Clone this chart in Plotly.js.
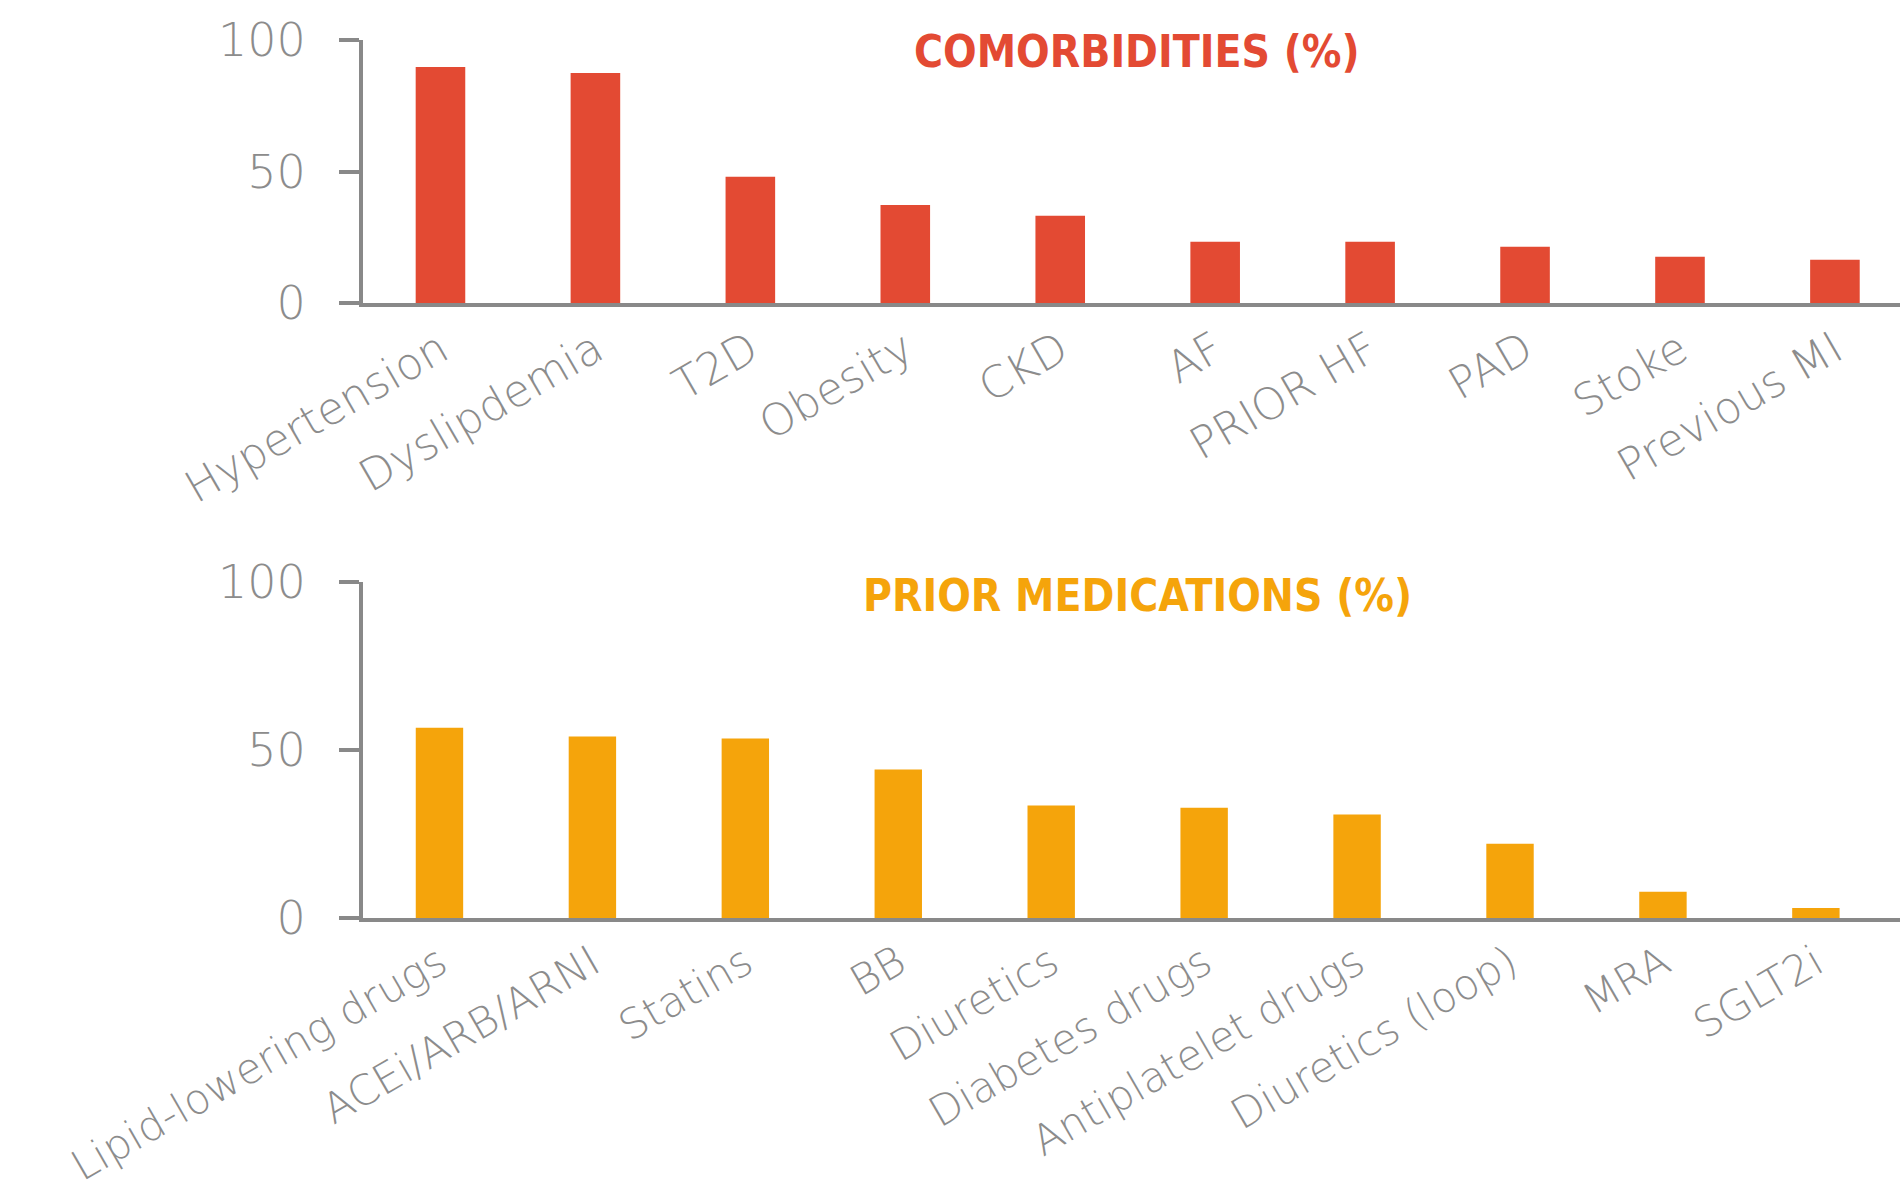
<!DOCTYPE html>
<html>
<head>
<meta charset="utf-8">
<script src="https://cdn.plot.ly/plotly-3.0.1.min.js"></script>
<style>html,body{margin:0;padding:0;background:#fff;}#chart{width:1900px;height:1195px;}</style>
</head>
<body>
<div id="chart"></div>
<script>
const comorbCategories = ["Hypertension","Dyslipdemia","T2D","Obesity","CKD","AF","PRIOR HF","PAD","Stoke","Previous MI"];
const comorbValues = [89.7, 87.5, 48.0, 37.3, 33.2, 23.3, 23.3, 21.4, 17.6, 16.4];
const medCategories = ["Lipid-lowering drugs","ACEi/ARB/ARNI","Statins","BB","Diuretics","Diabetes drugs","Antiplatelet drugs","Diuretics (loop)","MRA","SGLT2i"];
const medValues = [56.6, 54.0, 53.4, 44.2, 33.5, 32.8, 30.8, 22.1, 7.8, 3.0];
const yTickVals = [0, 50, 100];
const yTickText = ["0", "50", "100"];
const titleTop = "COMORBIDITIES (%)";
const titleBottom = "PRIOR MEDICATIONS (%)";

const RED = "#E34A33", ORANGE = "#F5A40B", GRAY = "#898989", TXT = "#8C8C8C";
const labelFont = {family: "DejaVu Sans, sans-serif", size: 44, color: TXT, weight: 300};
const labelFont2 = {family: "DejaVu Sans, sans-serif", size: 42, color: TXT, weight: 300};
const tickNumFont = {family: "DejaVu Sans, sans-serif", size: 46, color: TXT, weight: 300};
const titleFontFam = "DejaVu Sans Condensed, DejaVu Sans, sans-serif";

const H = 1195;
const trace1 = {type: "bar", x: comorbCategories, y: comorbValues, xaxis: "x", yaxis: "y",
  marker: {color: RED}, width: 0.32, hoverinfo: "none"};
const trace2 = {type: "bar", x: medCategories, y: medValues, xaxis: "x2", yaxis: "y2",
  marker: {color: ORANGE}, width: 0.31, hoverinfo: "none"};

function yax(domain){
  return {domain: domain, range: [0, 100], tickvals: yTickVals, ticktext: yTickText,
    showgrid: false, zeroline: false, showline: true, linecolor: GRAY, linewidth: 4,
    ticks: "outside", ticklen: 20, tickwidth: 4, tickcolor: GRAY, ticklabelstandoff: 24,
    tickfont: tickNumFont, automargin: false, fixedrange: true};
}
function xax(range, anchor, font){
  return {domain: [363/1900, 1], range: range, anchor: anchor, showgrid: false, zeroline: false,
    showline: true, linecolor: GRAY, linewidth: 4, ticks: "", tickangle: -30,
    tickfont: font, automargin: false, fixedrange: true};
}

const layout = {
  width: 1900, height: H, margin: {l: 0, r: 0, t: 0, b: 0},
  paper_bgcolor: "#fff", plot_bgcolor: "#fff", showlegend: false, bargap: 0.5,
  xaxis: xax([-0.5, 9.42], "y", labelFont),
  yaxis: yax([1 - 303/H, 1 - 40/H]),
  xaxis2: xax([-0.5, 9.55], "y2", labelFont2),
  yaxis2: yax([1 - 918/H, 1 - 582/H]),
  annotations: [
    {text: "<b>" + titleTop + "</b>", xref: "paper", yref: "paper", x: 1137/1900, y: 1 - 51/H,
     xanchor: "center", yanchor: "middle", showarrow: false,
     font: {family: titleFontFam, size: 44, color: RED}},
    {text: "<b>" + titleBottom + "</b>", xref: "paper", yref: "paper", x: 1137/1900, y: 1 - 595/H,
     xanchor: "center", yanchor: "middle", showarrow: false,
     font: {family: titleFontFam, size: 44, color: ORANGE}}
  ]
};
Plotly.newPlot("chart", [trace1, trace2], layout, {displayModeBar: false, staticPlot: true});
</script>
</body>
</html>
